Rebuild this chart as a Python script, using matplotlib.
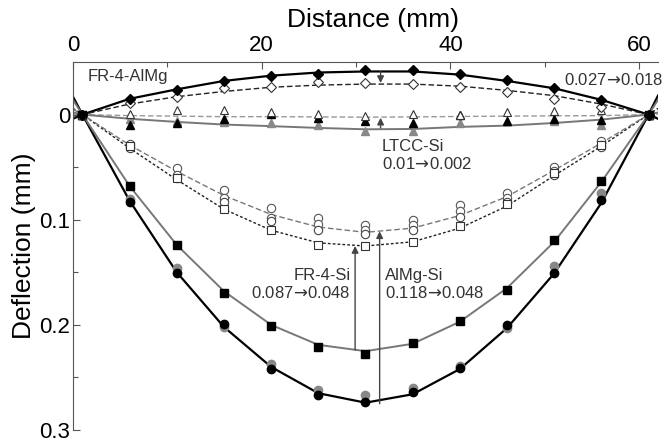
import matplotlib
matplotlib.use('Agg')
import matplotlib.pyplot as plt
import numpy as np

plt.rcParams['font.family'] = ['Liberation Sans', 'DejaVu Sans']
plt.rcParams['mathtext.fontset'] = 'dejavusans'

# measurement positions (mm) and fit positions
x_pts = [1, 6, 11, 16, 21, 26, 31, 36, 41, 46, 51, 56, 61]
x_fit = [0, 1, 6, 11, 16, 21, 26, 31, 36, 41, 46, 51, 56, 61, 62]

# FR-4-AlMg (diamonds)
dia_filled = [0, -0.015, -0.023, -0.032, -0.037, -0.039, -0.042, -0.042, -0.039, -0.033, -0.025, -0.014, 0]
dia_open = [0, -0.011, -0.017, -0.025, -0.026, -0.031, -0.030, -0.029, -0.026, -0.021, -0.015, -0.007, 0]
fit_dia_filled = [0.004, 0, -0.015, -0.024, -0.032, -0.037, -0.040, -0.041, -0.041, -0.038, -0.032, -0.025, -0.014, 0, 0.004]
fit_dia_open = [0.003, 0, -0.010, -0.017, -0.022, -0.026, -0.028, -0.029, -0.029, -0.027, -0.023, -0.018, -0.010, 0, 0.003]

# LTCC-Si (triangles)
tri_open = [0, -0.001, -0.004, -0.004, -0.002, -0.001, 0.001, -0.001, 0.0, -0.002, -0.003, -0.004, 0]
tri_black = [0, 0.0095, 0.008, 0.004, -0.001, 0.003, 0.006, 0.008, 0.0, 0.006, 0.004, 0.005, 0]
tri_gray = [0, 0.004, 0.006, 0.007, 0.008, 0.0095, 0.016, 0.016, 0.008, 0.006, 0.006, 0.0095, 0]
fit_tri_open = [-0.0003, 0, 0.001, 0.0015, 0.002, 0.002, 0.0022, 0.0025, 0.0022, 0.0018, 0.0015, 0.0012, 0.001, 0, -0.0003]
fit_tri_filled = [-0.002, 0, 0.004, 0.007, 0.0095, 0.011, 0.0127, 0.014, 0.0137, 0.0117, 0.0105, 0.008, 0.0048, 0, -0.002]

# FR-4-Si (squares)
sq_filled = [0, 0.068, 0.124, 0.170, 0.201, 0.221, 0.228, 0.217, 0.196, 0.167, 0.119, 0.0635, 0]
sq_open = [0, 0.030, 0.060, 0.0895, 0.110, 0.124, 0.125, 0.121, 0.106, 0.085, 0.0555, 0.0286, 0]
fit_sq_filled = [-0.014, 0, 0.068, 0.124, 0.168, 0.200, 0.219, 0.225, 0.218, 0.197, 0.165, 0.121, 0.064, 0, -0.014]
fit_sq_open = [-0.006, 0, 0.032, 0.062, 0.090, 0.110, 0.122, 0.125, 0.121, 0.108, 0.087, 0.058, 0.030, 0, -0.006]

# AlMg-Si (circles)
circ_black = [0, 0.083, 0.151, 0.199, 0.242, 0.267, 0.273, 0.264, 0.241, 0.200, 0.151, 0.081, 0]
circ_gray = [0, 0.080, 0.146, 0.202, 0.237, 0.262, 0.267, 0.260, 0.239, 0.203, 0.144, 0.075, 0]
circ_open_a = [0, 0.028, 0.051, 0.072, 0.089, 0.098, 0.105, 0.100, 0.086, 0.075, 0.050, 0.025, 0]
circ_open_b = [0, 0.031, 0.057, 0.079, 0.098, 0.104, 0.110, 0.105, 0.092, 0.079, 0.054, 0.029, 0]
circ_open_c = [0, 0.032, 0.060, 0.083, 0.101, 0.110, 0.114, 0.110, 0.097, 0.083, 0.057, 0.031, 0]
fit_circ = [-0.017, 0, 0.082, 0.150, 0.202, 0.240, 0.265, 0.274, 0.266, 0.242, 0.203, 0.151, 0.084, 0, -0.018]
fit_circ_open = [-0.005, 0, 0.029, 0.054, 0.077, 0.095, 0.107, 0.112, 0.108, 0.096, 0.078, 0.053, 0.027, 0, -0.005]

# arrows: x, start, tip
arrow_x = [32.6, 32.6, 29.9, 32.5]
arrow_from = [-0.041, 0.0127, 0.224, 0.275]
arrow_to = [-0.030, 0.003, 0.125, 0.111]

fig = plt.figure(figsize=(6.71, 4.47), dpi=100)
ax = fig.add_axes([0.1088, 0.038, 0.8718, 0.8233])

# fit lines
ax.plot(x_fit, fit_circ, color='black', lw=1.6, zorder=2)
ax.plot(x_fit, fit_sq_filled, color='#777777', lw=1.4, zorder=2)
ax.plot(x_fit, fit_sq_open, color='#222222', lw=1.0, ls=(0, (2, 1.5)), zorder=2)
ax.plot(x_fit, fit_circ_open, color='#777777', lw=1.0, ls=(0, (4, 2)), zorder=2)
ax.plot(x_fit, fit_dia_filled, color='black', lw=1.6, zorder=2)
ax.plot(x_fit, fit_dia_open, color='#222222', lw=1.0, ls=(0, (4, 2)), zorder=2)
ax.plot(x_fit, fit_tri_open, color='#999999', lw=1.0, ls=(0, (4, 2)), zorder=2)
ax.plot(x_fit, fit_tri_filled, color='#777777', lw=1.4, zorder=2)

# markers
ms = 6
ax.plot(x_pts, circ_open_a, 'o', mfc='white', mec='#555555', ms=ms, mew=0.8, zorder=3)
ax.plot(x_pts, circ_open_b, 'o', mfc='white', mec='#555555', ms=ms, mew=0.8, zorder=3)
ax.plot(x_pts, circ_open_c, 'o', mfc='white', mec='#444444', ms=ms, mew=0.8, zorder=3)
ax.plot(x_pts, sq_open, 's', mfc='white', mec='#333333', ms=5.5, mew=0.8, zorder=3)
ax.plot(x_pts, circ_gray, 'o', color='#888888', ms=ms, zorder=3)
ax.plot(x_pts, circ_black, 'o', color='black', ms=ms, zorder=4)
ax.plot(x_pts, sq_filled, 's', color='black', ms=5.5, zorder=4)
ax.plot(x_pts, tri_gray, '^', color='#888888', ms=6, zorder=3)
ax.plot(x_pts, tri_black, '^', color='black', ms=6, zorder=4)
ax.plot(x_pts, tri_open, '^', mfc='white', mec='#333333', ms=6, mew=0.8, zorder=4)
ax.plot(x_pts, dia_open, 'D', mfc='white', mec='#333333', ms=5, mew=0.8, zorder=4)
ax.plot(x_pts, dia_filled, 'D', color='black', ms=5, zorder=5)

for xa, y0, y1 in zip(arrow_x, arrow_from, arrow_to):
    ax.annotate('', xy=(xa, y1), xytext=(xa, y0),
                arrowprops=dict(arrowstyle='-|>', color='#444444', lw=1.0,
                                mutation_scale=10, shrinkA=0, shrinkB=0), zorder=6)

tc = '#333333'
fs = 12
arr = r'$\!\rightarrow\!$'
ax.text(1.6, -0.036, 'FR-4-AlMg', fontsize=fs, color=tc, va='center', ha='left')
ax.text(52.0, -0.033, '0.027' + arr + '0.018', fontsize=fs, color=tc, va='center', ha='left', clip_on=False)
ax.text(32.7, 0.039, 'LTCC-Si\n0.01' + arr + '0.002', fontsize=fs, color=tc, va='center', ha='left',
        linespacing=1.15)
ax.text(29.4, 0.162, 'FR-4-Si\n0.087' + arr + '0.048', fontsize=fs, color=tc, va='center', ha='right',
        multialignment='right', linespacing=1.15)
ax.text(33.1, 0.162, 'AlMg-Si\n0.118' + arr + '0.048', fontsize=fs, color=tc, va='center', ha='left',
        linespacing=1.15)

ax.set_xlim(0, 62)
ax.set_ylim(0.3, -0.05)
ax.xaxis.tick_top()
ax.xaxis.set_label_position('top')
ax.set_xticks([0, 20, 40, 60])
ax.set_xticks([10, 30, 50], minor=True)
ax.set_yticks([0, 0.1, 0.2, 0.3])
ax.set_yticklabels(['0', '0.1', '0.2', '0.3'])
ax.set_yticks([0.05, 0.15, 0.25], minor=True)
ax.tick_params(which='both', direction='in', color='#555555', labelsize=16)
ax.tick_params(which='major', length=5, width=0.8)
ax.tick_params(which='minor', length=3.5, width=0.8)
ax.tick_params(axis='x', pad=4)
ax.tick_params(axis='y', pad=2)
for s in ['right', 'bottom']:
    ax.spines[s].set_visible(False)
for s in ['top', 'left']:
    ax.spines[s].set_color('#555555')
    ax.spines[s].set_linewidth(0.8)
ax.set_xlabel('Distance (mm)', fontsize=19)
ax.xaxis.set_label_coords(0.513, 1.095)
ax.set_ylabel('Deflection (mm)', fontsize=19, labelpad=2)

fig.savefig('out.png', dpi=100)
